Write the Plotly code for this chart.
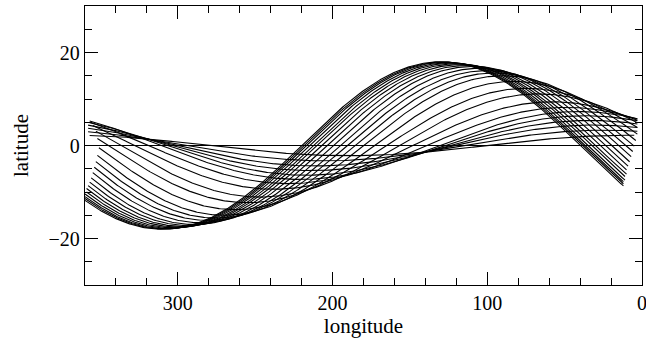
import numpy as np
import plotly.graph_objects as go

# Per-curve parameters (great-circle tracks:
# amplitude = inclination, longitude of maximum latitude)
inclination_deg = [18.0, 17.95, 17.9, 17.8, 17.7, 17.55, 17.4, 17.2, 17.0, 16.6,
                   16.1, 15.6, 15.0, 13.8, 12.3, 11.1, 9.4, 8.2, 7.3, 6.4,
                   5.4, 4.4, 3.3, 2.2]
peak_lon_deg = [130.0, 128.5, 127.0, 125.0, 122.5, 120.0, 117.0, 113.5, 109.5, 105.0,
                100.5, 95.5, 90.0, 83.0, 75.0, 67.0, 58.0, 49.0, 41.0, 37.0,
                34.0, 31.0, 25.0, 10.0]
start_lon = [360, 360, 360, 360, 359, 359, 358, 357, 356, 355, 354, 353, 352,
             351, 352, 353, 355, 356, 357, 357, 358, 358, 358, 357]
end_lon = [12, 12, 12, 11, 11, 10, 10, 9, 8, 7, 6, 5, 4, 3, 3, 3, 3, 3, 3, 3,
           3, 3, 3, 5]

fig = go.Figure()
for inc, pk, s, e in zip(inclination_deg, peak_lon_deg, start_lon, end_lon):
    lon = np.linspace(s, e, 400)
    lat = np.degrees(np.arctan(np.tan(np.radians(inc)) * np.cos(np.radians(lon - pk))))
    fig.add_trace(go.Scatter(x=lon, y=lat, mode="lines",
                             line=dict(color="black", width=1.1),
                             showlegend=False, hoverinfo="skip"))

font_family = "Liberation Serif"
axis_common = dict(showline=True, linecolor="black", linewidth=1.4, mirror="ticks",
                   ticks="inside", tickcolor="black", tickwidth=1, showgrid=False,
                   automargin=False, ticklen=13, ticklabeloverflow="allow",
                   tickfont=dict(family=font_family, size=20, color="black"))

fig.update_xaxes(range=[360, 0], tickmode="linear", tick0=0, dtick=100,
                 zeroline=False,
                 minor=dict(dtick=20, tick0=0, ticks="inside", ticklen=7,
                            tickcolor="black", tickwidth=1, showgrid=False),
                 title=dict(text="longitude", font=dict(family=font_family, size=21, color="black"),
                            standoff=2),
                 **axis_common)
fig.update_yaxes(range=[-30, 30], tickmode="linear", tick0=0, dtick=20,
                 zeroline=True, zerolinecolor="black", zerolinewidth=1,
                 minor=dict(dtick=5, tick0=0, ticks="inside", ticklen=7,
                            tickcolor="black", tickwidth=1, showgrid=False),
                 title=dict(text="latitude", font=dict(family=font_family, size=21, color="black"),
                            standoff=14),
                 **axis_common)

fig.update_layout(width=646, height=341, plot_bgcolor="white", paper_bgcolor="white",
                  margin=dict(l=85, r=4, t=6, b=56))

fig.write_html("out.html", config={"displayModeBar": False},
               post_script="document.body.style.margin='0';document.body.style.overflow='hidden';")
